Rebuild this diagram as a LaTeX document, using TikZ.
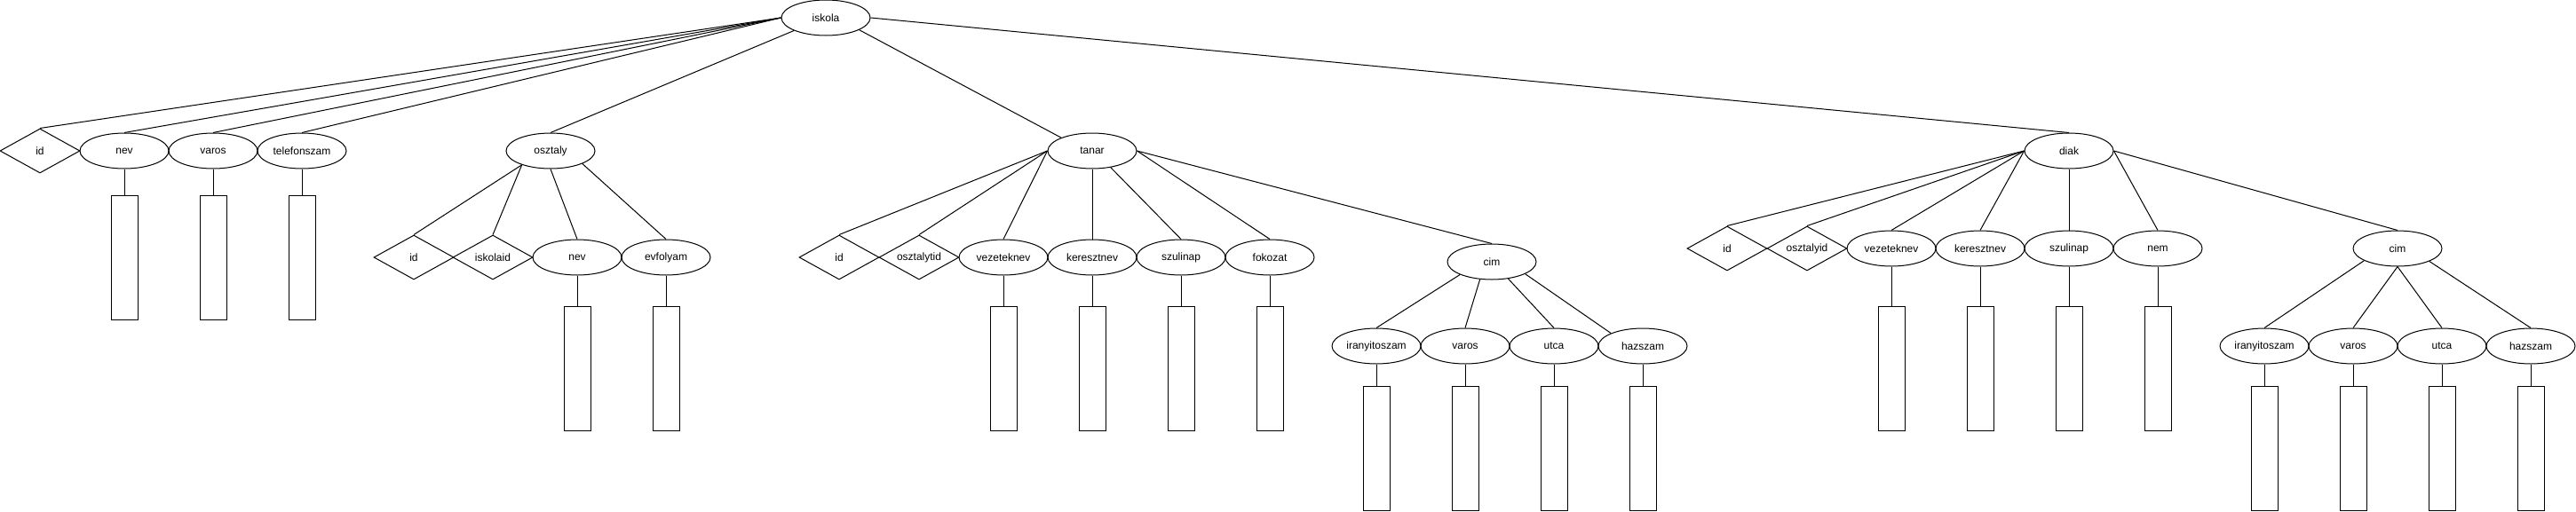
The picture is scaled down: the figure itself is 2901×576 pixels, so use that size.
\documentclass[tikz,border=0pt]{standalone}
\usepackage{fontspec}
\setmainfont{Liberation Sans}
\usetikzlibrary{shapes.geometric}
\begin{document}
\begin{tikzpicture}[x=1pt,y=-1pt,line width=1pt,
  lbl/.style={font=\fontsize{12pt}{14pt}\selectfont},
  ent/.style={draw,ellipse,minimum width=100pt,minimum height=40pt,inner sep=0pt,lbl},
  keyattr/.style={draw,diamond,shape aspect=1.8,minimum width=90pt,minimum height=50pt,inner sep=0pt,lbl},
  valbox/.style={draw,rectangle,minimum width=30pt,minimum height=140pt,inner sep=0pt},
  link/.style={draw,line width=1pt}]
\useasboundingbox (0,0) rectangle (2901,576);

% root
\node[ent] (iskola) at (930,20) {iskola};

% iskola attributes
\node[keyattr] (idA) at (45,170) {id};
\node[ent] (nevA) at (140,170) {nev};
\node[ent] (varosA) at (240,170) {varos};
\node[ent] (telA) at (340,170) {telefonszam};

% osztaly
\node[ent] (osztaly) at (620,170) {osztaly};
\node[keyattr] (idB) at (466,290) {id};
\node[keyattr] (iskolaidB) at (555,290) {iskolaid};
\node[ent] (nevB) at (650,290) {nev};
\node[ent] (evfB) at (750,290) {evfolyam};

% tanar
\node[ent] (tanar) at (1230,170) {tanar};
\node[keyattr] (idC) at (945,290) {id};
\node[keyattr] (oszC) at (1035,290) {osztalytid};
\node[ent] (vezC) at (1130,290) {vezeteknev};
\node[ent] (kerC) at (1230,290) {keresztnev};
\node[ent] (szulC) at (1330,290) {szulinap};
\node[ent] (fokC) at (1430,290) {fokozat};
\node[ent] (cimC) at (1680,295) {cim};
\node[ent] (iranC) at (1550,390) {iranyitoszam};
\node[ent] (varosC) at (1650,390) {varos};
\node[ent] (utcaC) at (1750,390) {utca};
\node[ent] (hazC) at (1850,390) {hazszam};

% diak
\node[ent] (diak) at (2330,170) {diak};
\node[keyattr] (idD) at (1945,280) {id};
\node[keyattr] (oszD) at (2035,280) {osztalyid};
\node[ent] (vezD) at (2130,280) {vezeteknev};
\node[ent] (kerD) at (2230,280) {keresztnev};
\node[ent] (szulD) at (2330,280) {szulinap};
\node[ent] (nemD) at (2430,280) {nem};
\node[ent] (cimD) at (2700,280) {cim};
\node[ent] (iranD) at (2550,390) {iranyitoszam};
\node[ent] (varosD) at (2650,390) {varos};
\node[ent] (utcaD) at (2750,390) {utca};
\node[ent] (hazD) at (2850,390) {hazszam};

% value boxes
\foreach \n/\x/\y in {nevA/140/290,varosA/240/290,telA/340/290,
  nevB/650/415,evfB/750/415,
  vezC/1130/415,kerC/1230/415,szulC/1330/415,fokC/1430/415,
  iranC/1550/505,varosC/1650/505,utcaC/1750/505,hazC/1850/505,
  vezD/2130/415,kerD/2230/415,szulD/2330/415,nemD/2430/415,
  iranD/2550/505,varosD/2650/505,utcaD/2750/505,hazD/2850/505}{
  \node[valbox] (\n-v) at (\x,\y) {};
  \draw[link] (\n.south) -- (\n-v.north);
}

% iskola links
\draw[link] (iskola.west) -- (idA.north);
\draw[link] (iskola.west) -- (nevA.north);
\draw[link] (iskola.west) -- (varosA.north);
\draw[link] (iskola.west) -- (telA.north);
\draw[link] (iskola.202) -- (osztaly.north);
\draw[link] (iskola.340) -- (tanar.157);
\draw[link] (iskola.east) -- (diak.north);

% osztaly links
\draw[link] (osztaly.206) -- (idB.north);
\draw[link] (osztaly.206) -- (iskolaidB.north);
\draw[link] (osztaly.south) -- (nevB.north);
\draw[link] (osztaly.338) -- (evfB.north);

% tanar links
\draw[link] (tanar.west) -- (idC.north);
\draw[link] (tanar.west) -- (oszC.north);
\draw[link] (tanar.west) -- (vezC.north);
\draw[link] (tanar.south) -- (kerC.north);
\draw[link] (tanar.318) -- (szulC.north);
\draw[link] (tanar.east) -- (fokC.north);
\draw[link] (tanar.east) -- (cimC.north);

% cim (tanar) links
\draw[link] (cimC.202) -- (iranC.north);
\draw[link] (cimC.236) -- (varosC.north);
\draw[link] (cimC.314) -- (utcaC.north);
\draw[link] (cimC.340) -- (hazC.158);

% diak links
\draw[link] (diak.west) -- (idD.north);
\draw[link] (diak.west) -- (oszD.north);
\draw[link] (diak.west) -- (vezD.north);
\draw[link] (diak.west) -- (kerD.north);
\draw[link] (diak.south) -- (szulD.north);
\draw[link] (diak.east) -- (nemD.north);
\draw[link] (diak.east) -- (cimD.north);

% cim (diak) links
\draw[link] (cimD.200) -- (iranD.north);
\draw[link] (cimD.south) -- (varosD.north);
\draw[link] (cimD.south) -- (utcaD.north);
\draw[link] (cimD.338) -- (hazD.north);
\end{tikzpicture}
\end{document}
